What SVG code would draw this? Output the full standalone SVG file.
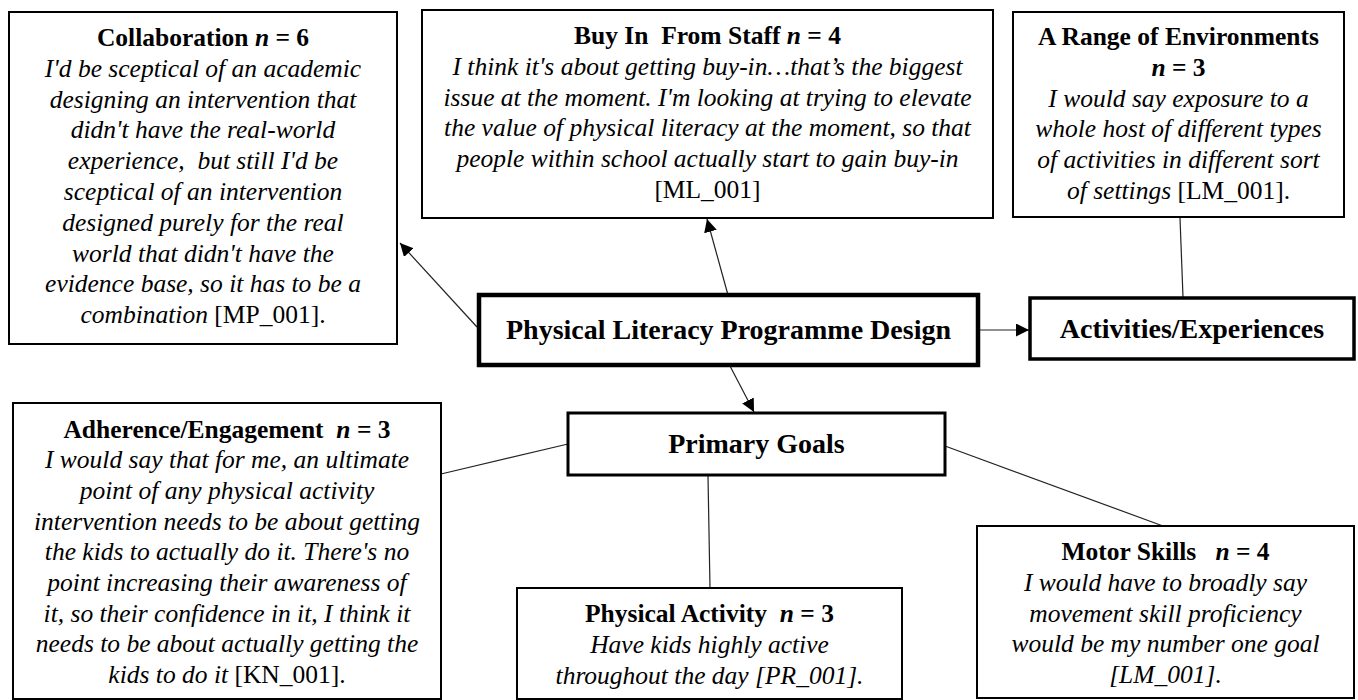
<svg xmlns="http://www.w3.org/2000/svg" width="1358" height="700" viewBox="0 0 1358 700">
<style>
.box{fill:#fff;stroke:#000;stroke-width:2}
.t{font-family:"Liberation Serif","Times New Roman",serif;font-size:25.5px;text-anchor:middle;fill:#000;white-space:pre}
.b{font-weight:bold}
.i{font-style:italic}
.r{font-style:normal}
.big{font-size:28px;font-weight:bold}
.conn line{stroke:#222;stroke-width:1.2}
</style>
<defs>
<marker id="ah" markerUnits="userSpaceOnUse" markerWidth="14" markerHeight="14" refX="13" refY="6.5" orient="auto">
<path d="M0,0 L13,6.5 L0,13 z" fill="#000"/>
</marker>
</defs>
<rect width="1358" height="700" fill="#fff"/>
<g id="connectors" class="conn">
<line x1="477" y1="327" x2="400" y2="243" marker-end="url(#ah)"/>
<line x1="728" y1="295" x2="707" y2="219" marker-end="url(#ah)"/>
<line x1="980" y1="330" x2="1029" y2="330" marker-end="url(#ah)"/>
<line x1="730" y1="366" x2="754" y2="412" marker-end="url(#ah)"/>
<line x1="1180" y1="218" x2="1183" y2="297"/>
<line x1="568" y1="444" x2="441" y2="474"/>
<line x1="708" y1="476" x2="710" y2="588"/>
<line x1="945" y1="446" x2="1163" y2="526"/>
</g>
<g id="collaboration">
<rect class="box" x="9" y="12" width="388" height="332"/>
<text class="t b" x="203" y="46">Collaboration <tspan class="i">n</tspan> = 6</text>
<text class="t i" x="203" y="76.8">I'd be sceptical of an academic</text>
<text class="t i" x="203" y="107.6">designing an intervention that</text>
<text class="t i" x="203" y="138.4">didn't have the real-world</text>
<text class="t i" x="203" y="169.2">experience,  but still I'd be</text>
<text class="t i" x="203" y="200">sceptical of an intervention</text>
<text class="t i" x="203" y="230.8">designed purely for the real</text>
<text class="t i" x="203" y="261.6">world that didn't have the</text>
<text class="t i" x="203" y="292.4">evidence base, so it has to be a</text>
<text class="t" x="203" y="323.2"><tspan class="i">combination</tspan> [MP_001].</text>
</g>
<g id="buyin">
<rect class="box" x="422" y="10" width="571" height="208"/>
<text class="t b" x="707.5" y="44">Buy In  From Staff <tspan class="i">n</tspan> = 4</text>
<text class="t i" x="707.5" y="74.8">I think it's about getting buy-in…that’s the biggest</text>
<text class="t i" x="707.5" y="105.6">issue at the moment. I'm looking at trying to elevate</text>
<text class="t i" x="707.5" y="136.4">the value of physical literacy at the moment, so that</text>
<text class="t i" x="707.5" y="167.2">people within school actually start to gain buy-in</text>
<text class="t" x="707.5" y="198">[ML_001]</text>
</g>
<g id="environments">
<rect class="box" x="1013" y="12" width="331" height="205"/>
<text class="t b" x="1178.5" y="45">A Range of Environments</text>
<text class="t b" x="1178.5" y="75.8"><tspan class="i">n</tspan> = 3</text>
<text class="t i" x="1178.5" y="106.6">I would say exposure to a</text>
<text class="t i" x="1178.5" y="137.4">whole host of different types</text>
<text class="t i" x="1178.5" y="168.2">of activities in different sort</text>
<text class="t" x="1178.5" y="199"><tspan class="i">of settings</tspan> [LM_001].</text>
</g>
<g id="design">
<rect x="479" y="295" width="499" height="70" fill="#fff" stroke="#000" stroke-width="4.5"/>
<text class="t big" x="728.5" y="339">Physical Literacy Programme Design</text>
</g>
<g id="activities">
<rect x="1030" y="298" width="324" height="61" fill="#fff" stroke="#000" stroke-width="3.5"/>
<text class="t big" x="1192" y="338">Activities/Experiences</text>
</g>
<g id="goals">
<rect x="568" y="413" width="377" height="62" fill="#fff" stroke="#000" stroke-width="3"/>
<text class="t big" x="756.5" y="453">Primary Goals</text>
</g>
<g id="adherence">
<rect class="box" x="13" y="403" width="428" height="296"/>
<text class="t b" x="227" y="437.5">Adherence/Engagement  <tspan class="i">n</tspan> = 3</text>
<text class="t i" x="227" y="468.2">I would say that for me, an ultimate</text>
<text class="t i" x="227" y="498.9">point of any physical activity</text>
<text class="t i" x="227" y="529.6">intervention needs to be about getting</text>
<text class="t i" x="227" y="560.3">the kids to actually do it. There's no</text>
<text class="t i" x="227" y="591">point increasing their awareness of</text>
<text class="t i" x="227" y="621.7">it, so their confidence in it, I think it</text>
<text class="t i" x="227" y="652.4">needs to be about actually getting the</text>
<text class="t" x="227" y="683.1"><tspan class="i">kids to do it</tspan> [KN_001].</text>
</g>
<g id="physical-activity">
<rect class="box" x="517" y="588" width="385" height="111"/>
<text class="t b" x="709.5" y="622">Physical Activity  <tspan class="i">n</tspan> = 3</text>
<text class="t i" x="709.5" y="652.8">Have kids highly active</text>
<text class="t i" x="709.5" y="683.6">throughout the day [PR_001].</text>
</g>
<g id="motor">
<rect class="box" x="977" y="526" width="377" height="172"/>
<text class="t b" x="1165.5" y="560">Motor Skills   <tspan class="i">n</tspan> = 4</text>
<text class="t i" x="1165.5" y="590.8">I would have to broadly say</text>
<text class="t i" x="1165.5" y="621.6">movement skill proficiency</text>
<text class="t i" x="1165.5" y="652.4">would be my number one goal</text>
<text class="t i" x="1165.5" y="683.2">[LM_001].</text>
</g>
</svg>
